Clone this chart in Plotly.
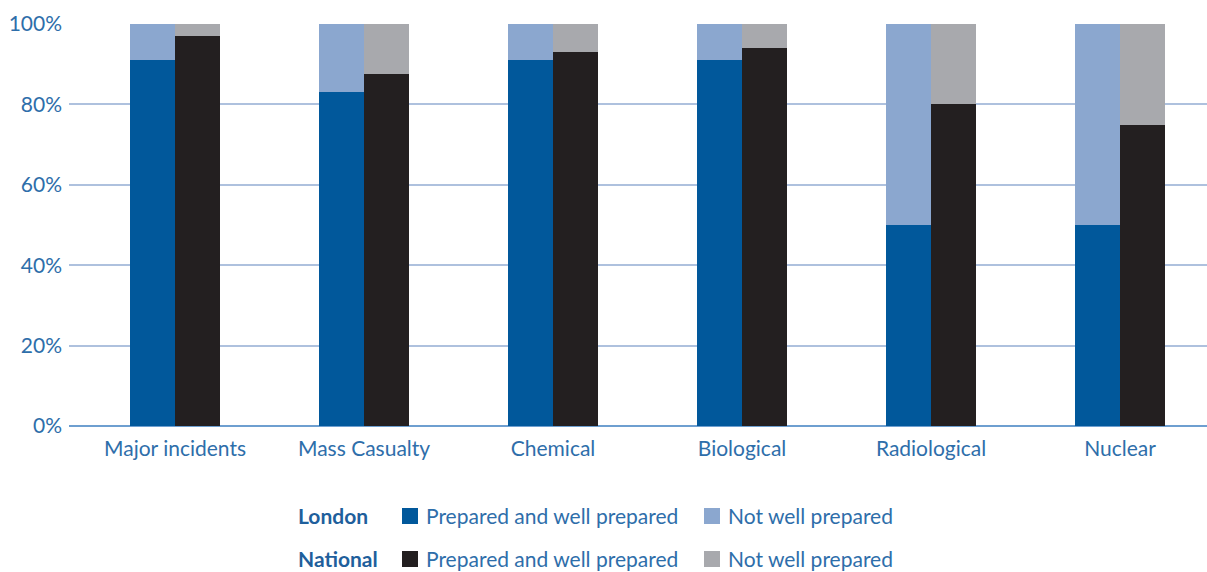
import plotly.graph_objects as go

categories = ["Major incidents", "Mass Casualty", "Chemical", "Biological", "Radiological", "Nuclear"]
london_prepared = [91, 83, 91, 91, 50, 50]
london_not_well = [9, 17, 9, 9, 50, 50]
national_prepared = [97, 87.5, 93, 94, 80, 75]
national_not_well = [3, 12.5, 7, 6, 20, 25]
y_ticks = [0, 20, 40, 60, 80, 100]
y_tick_labels = ["0%", "20%", "40%", "60%", "80%", "100%"]

C_LON_PREP = "#01589b"
C_LON_NOT = "#8ba7cf"
C_NAT_PREP = "#231f20"
C_NAT_NOT = "#a8a9ad"
TEXT_BLUE = "#2e6eaa"
FONT = "Lato, 'Open Sans', sans-serif"

BAR_W = 0.238
idx = list(range(len(categories)))
x_lon = [i - BAR_W / 2 for i in idx]
x_nat = [i + BAR_W / 2 for i in idx]

fig = go.Figure()
fig.add_bar(x=x_lon, y=london_prepared, width=BAR_W, marker=dict(color=C_LON_PREP, line=dict(width=0)))
fig.add_bar(x=x_lon, y=london_not_well, width=BAR_W, marker=dict(color=C_LON_NOT, line=dict(width=0)))
fig.add_bar(x=x_nat, y=national_prepared, width=BAR_W, marker=dict(color=C_NAT_PREP, line=dict(width=0)))
fig.add_bar(x=x_nat, y=national_not_well, width=BAR_W, marker=dict(color=C_NAT_NOT, line=dict(width=0)))

# Legend drawn as two labelled rows below the axis
L, R = 69, 1207
def px(x):
    return (x - L) / (R - L)
def py(y):
    return (426 - y) / (426 - 24)

rows = [
    ("London", 515, C_LON_PREP, C_LON_NOT),
    ("National", 558, C_NAT_PREP, C_NAT_NOT),
]
shapes = []
annotations = []
for name, yc, c1, c2 in rows:
    annotations.append(dict(x=px(296), y=py(yc), xref="paper", yref="paper", text="<b>" + name + "</b>",
                            showarrow=False, xanchor="left", yanchor="middle",
                            font=dict(family=FONT, size=21, color="#1f5f9c")))
    for x0, col, label in [(402, c1, "Prepared and well prepared"), (704, c2, "Not well prepared")]:
        shapes.append(dict(type="rect", xref="paper", yref="paper",
                           x0=px(x0), x1=px(x0 + 16), y0=py(yc + 9), y1=py(yc - 7),
                           fillcolor=col, line=dict(width=0)))
        annotations.append(dict(x=px(x0 + 22), y=py(yc), xref="paper", yref="paper", text=label,
                                showarrow=False, xanchor="left", yanchor="middle",
                                font=dict(family=FONT, size=21, color=TEXT_BLUE)))

fig.update_layout(
    barmode="stack",
    width=1207, height=572,
    margin=dict(l=69, r=0, t=24, b=146),
    paper_bgcolor="white", plot_bgcolor="white",
    showlegend=False,
    shapes=shapes,
    annotations=annotations,
    font=dict(family=FONT, size=21, color=TEXT_BLUE),
    xaxis=dict(range=[-0.561, 5.460], tickvals=idx, ticktext=categories,
               showgrid=False, zeroline=False, showline=False, ticks="",
               ticklabelstandoff=8,
               tickfont=dict(family=FONT, size=21, color=TEXT_BLUE), fixedrange=True),
    yaxis=dict(range=[0, 100], tickvals=y_ticks, ticktext=y_tick_labels,
               showgrid=True, gridcolor="#aec1de", gridwidth=2,
               zeroline=True, zerolinecolor="#6e9fd0", zerolinewidth=2,
               showline=False, ticks="", ticklabelstandoff=6,
               tickfont=dict(family=FONT, size=21, color=TEXT_BLUE), fixedrange=True),
    bargap=0,
)

fig.write_html("out.html")
